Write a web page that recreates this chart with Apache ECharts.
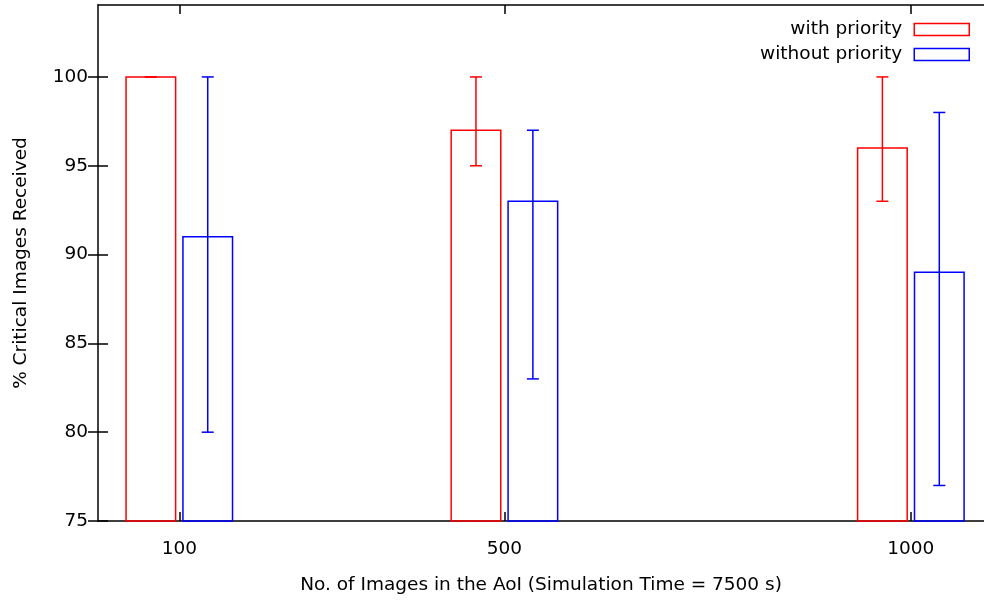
<!DOCTYPE html>
<html><head><meta charset="utf-8">
<script src="https://cdn.jsdelivr.net/npm/echarts@6/dist/echarts.min.js"></script>
<style>html,body{margin:0;padding:0;background:#fff}#c{width:984px;height:602px}</style>
</head><body><div id="c"></div>
<script>
const categories = [100, 500, 1000];
const withPriority = [100, 97, 96];
const withPriorityLow = [100, 95, 93];
const withPriorityHigh = [100, 100, 100];
const withoutPriority = [91, 93, 89];
const withoutPriorityLow = [80, 83, 77];
const withoutPriorityHigh = [100, 97, 98];
const yTicks = [75, 80, 85, 90, 95, 100];
const seriesNames = ['with priority', 'without priority'];

const FONT = 'DejaVu Sans';
const FS = 18.5;
const BAR_OFFSET = 35, BAR_W = 61, CAP = 6;

function mkData(vals, lows, highs) {
  return categories.map((c, i) => [c, vals[i], lows[i], highs[i]]);
}
function renderer(offset, color) {
  return function (params, api) {
    const x = api.value(0) + offset;
    const p0 = api.coord([x - BAR_W / 2, 75]);
    const p1 = api.coord([x + BAR_W / 2, api.value(1)]);
    const lo = api.coord([x, api.value(2)]);
    const hi = api.coord([x, api.value(3)]);
    const st = { stroke: color, lineWidth: 1.5, fill: null };
    return {
      type: 'group',
      children: [
        { type: 'rect', shape: { x: p0[0], y: p1[1], width: p1[0] - p0[0], height: p0[1] - p1[1] }, style: { stroke: color, lineWidth: 1.5, fill: 'rgba(0,0,0,0)' } },
        { type: 'line', shape: { x1: lo[0], y1: lo[1], x2: hi[0], y2: hi[1] }, style: st },
        { type: 'line', shape: { x1: lo[0] - CAP, y1: lo[1], x2: lo[0] + CAP, y2: lo[1] }, style: st },
        { type: 'line', shape: { x1: hi[0] - CAP, y1: hi[1], x2: hi[0] + CAP, y2: hi[1] }, style: st }
      ]
    };
  };
}
const axisLine = { show: true, onZero: false, lineStyle: { color: '#000', width: 1.5 } };
const tickStyle = { color: '#000', width: 1.5 };
const chart = echarts.init(document.getElementById('c'), null, { renderer: 'canvas' });
chart.setOption({
  animation: false,
  backgroundColor: '#fff',
  textStyle: { fontFamily: FONT },
  grid: { left: 98, right: 0, top: 5, bottom: 81, containLabel: false },
  legend: {
    orient: 'vertical', align: 'right', right: 9, top: 15,
    itemWidth: 55, itemHeight: 12, itemGap: 6,
    textStyle: { fontFamily: FONT, fontSize: FS, color: '#000', padding: [0, 7, 0, 0] },
    data: [
      { name: seriesNames[0], icon: 'rect', itemStyle: { color: '#fff', borderColor: '#f00', borderWidth: 1.5 } },
      { name: seriesNames[1], icon: 'rect', itemStyle: { color: '#fff', borderColor: '#00f', borderWidth: 1.5 } }
    ]
  },
  xAxis: [
    {
      type: 'value', min: 0, max: 1090, position: 'bottom',
      axisLine: axisLine,
      axisTick: { show: true, inside: true, length: 9, customValues: categories, lineStyle: tickStyle },
      axisLabel: { show: true, customValues: categories, formatter: v => String(v), fontFamily: FONT, fontSize: FS, color: '#000', margin: 19 },
      splitLine: { show: false },
      name: 'No. of Images in the AoI (Simulation Time = 7500 s)', nameLocation: 'middle', nameGap: 55,
      nameTextStyle: { fontFamily: FONT, fontSize: FS, color: '#000' }
    },
    {
      type: 'value', min: 0, max: 1090, position: 'top',
      axisLine: axisLine,
      axisTick: { show: true, inside: true, length: 9, customValues: categories, lineStyle: tickStyle },
      axisLabel: { show: false }, splitLine: { show: false }
    }
  ],
  yAxis: [
    {
      type: 'value', min: 75, max: 104.05, position: 'left',
      axisLine: axisLine,
      axisTick: { show: true, inside: true, length: 10, customValues: yTicks, lineStyle: tickStyle },
      axisLabel: { show: true, customValues: yTicks, fontFamily: FONT, fontSize: FS, color: '#000', margin: 10 },
      splitLine: { show: false },
      name: '% Critical Images Received', nameLocation: 'middle', nameGap: 67, nameRotate: 90,
      nameTextStyle: { fontFamily: FONT, fontSize: FS, color: '#000' }
    },
    {
      type: 'value', min: 75, max: 104.05, position: 'right',
      axisLine: { show: false },
      axisTick: { show: true, inside: true, length: 10, customValues: yTicks, lineStyle: tickStyle },
      axisLabel: { show: false }, splitLine: { show: false }
    }
  ],
  series: [
    { name: seriesNames[0], type: 'custom', xAxisIndex: 0, yAxisIndex: 0, clip: false, color: '#f00',
      data: mkData(withPriority, withPriorityLow, withPriorityHigh), renderItem: renderer(-BAR_OFFSET, '#f00') },
    { name: seriesNames[1], type: 'custom', xAxisIndex: 0, yAxisIndex: 0, clip: false, color: '#00f',
      data: mkData(withoutPriority, withoutPriorityLow, withoutPriorityHigh), renderItem: renderer(BAR_OFFSET, '#00f') }
  ]
});
</script></body></html>
